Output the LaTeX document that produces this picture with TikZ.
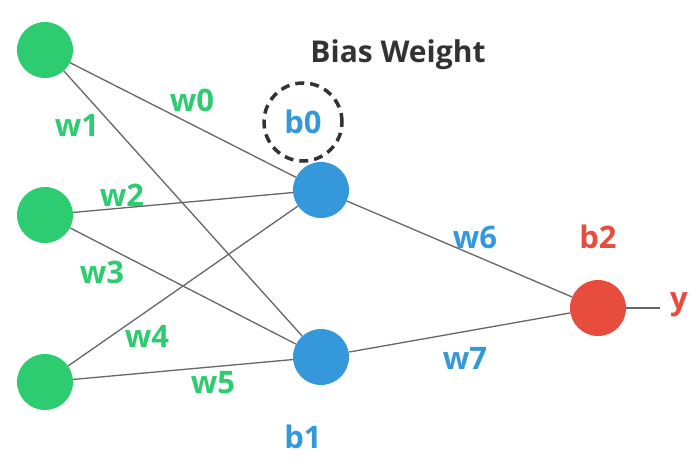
\documentclass[tikz,border=0pt]{standalone}
\usepackage{fontspec}
\setmainfont{Open Sans}
\usepackage{tikz}
\definecolor{ingreen}{HTML}{2ECC71}
\definecolor{hidblue}{HTML}{3498DB}
\definecolor{outred}{HTML}{E74C3C}
\definecolor{edgegray}{HTML}{666666}
\tikzset{neuron/.style={circle, inner sep=0pt, minimum size=56pt}, wlabel/.style={font=\fontsize{31}{33}\selectfont\bfseries, inner sep=0pt}, link/.style={draw=edgegray, line width=1.3pt}}

\begin{document}
\begin{tikzpicture}[x=1pt, y=-1pt]
      \useasboundingbox (0,0) rectangle (696,471);
      \foreach \x/\y in {1/50,2/215,3/382} {
        \node [neuron, fill=ingreen] (\x0) at (45,\y) {};
      }
      \node [neuron, fill=hidblue] (11) at (321,190) {};
      \node [neuron, fill=hidblue] (21) at (321,357) {};
      \node [neuron, fill=outred] (out) at (598,308) {};
      \coordinate (y) at (660,308);
      \foreach \x in {1,2,3} {
        \foreach \y in {1,2} {
          \draw [link] (\x0) -- (\y1);
        }
      }
      \draw [link] (11) -- (out);
      \draw [link] (21) -- (out);
      \draw [link] (out) -- (y);
      \node [circle, draw=black!80, line width=3.5pt, dash pattern=on 9pt off 6pt, minimum size=78pt] (bias) at (303,122) {};
      \node [wlabel, text=hidblue] at (bias) {b0};
      \node [wlabel, text=black!80, font=\fontsize{30}{32}\selectfont\bfseries] at (398,55) {Bias Weight};
        \node [wlabel, text=ingreen] at (192,100) {w0};
        \node [wlabel, text=ingreen] at (77,125) {w1};
        \node [wlabel, text=ingreen] at (122,195) {w2};
        \node [wlabel, text=ingreen] at (102,272) {w3};
        \node [wlabel, text=ingreen] at (147,336) {w4};
        \node [wlabel, text=ingreen] at (213,383) {w5};
        \node [wlabel, text=hidblue] at (475,237) {w6};
        \node [wlabel, text=hidblue] at (465,358) {w7};
        \node [wlabel, text=hidblue] at (303,437) {b1};
        \node [wlabel, text=outred] at (598,237) {b2};
        \node [wlabel, text=outred] at (679,305) {y};
    \end{tikzpicture}
\end{document}
